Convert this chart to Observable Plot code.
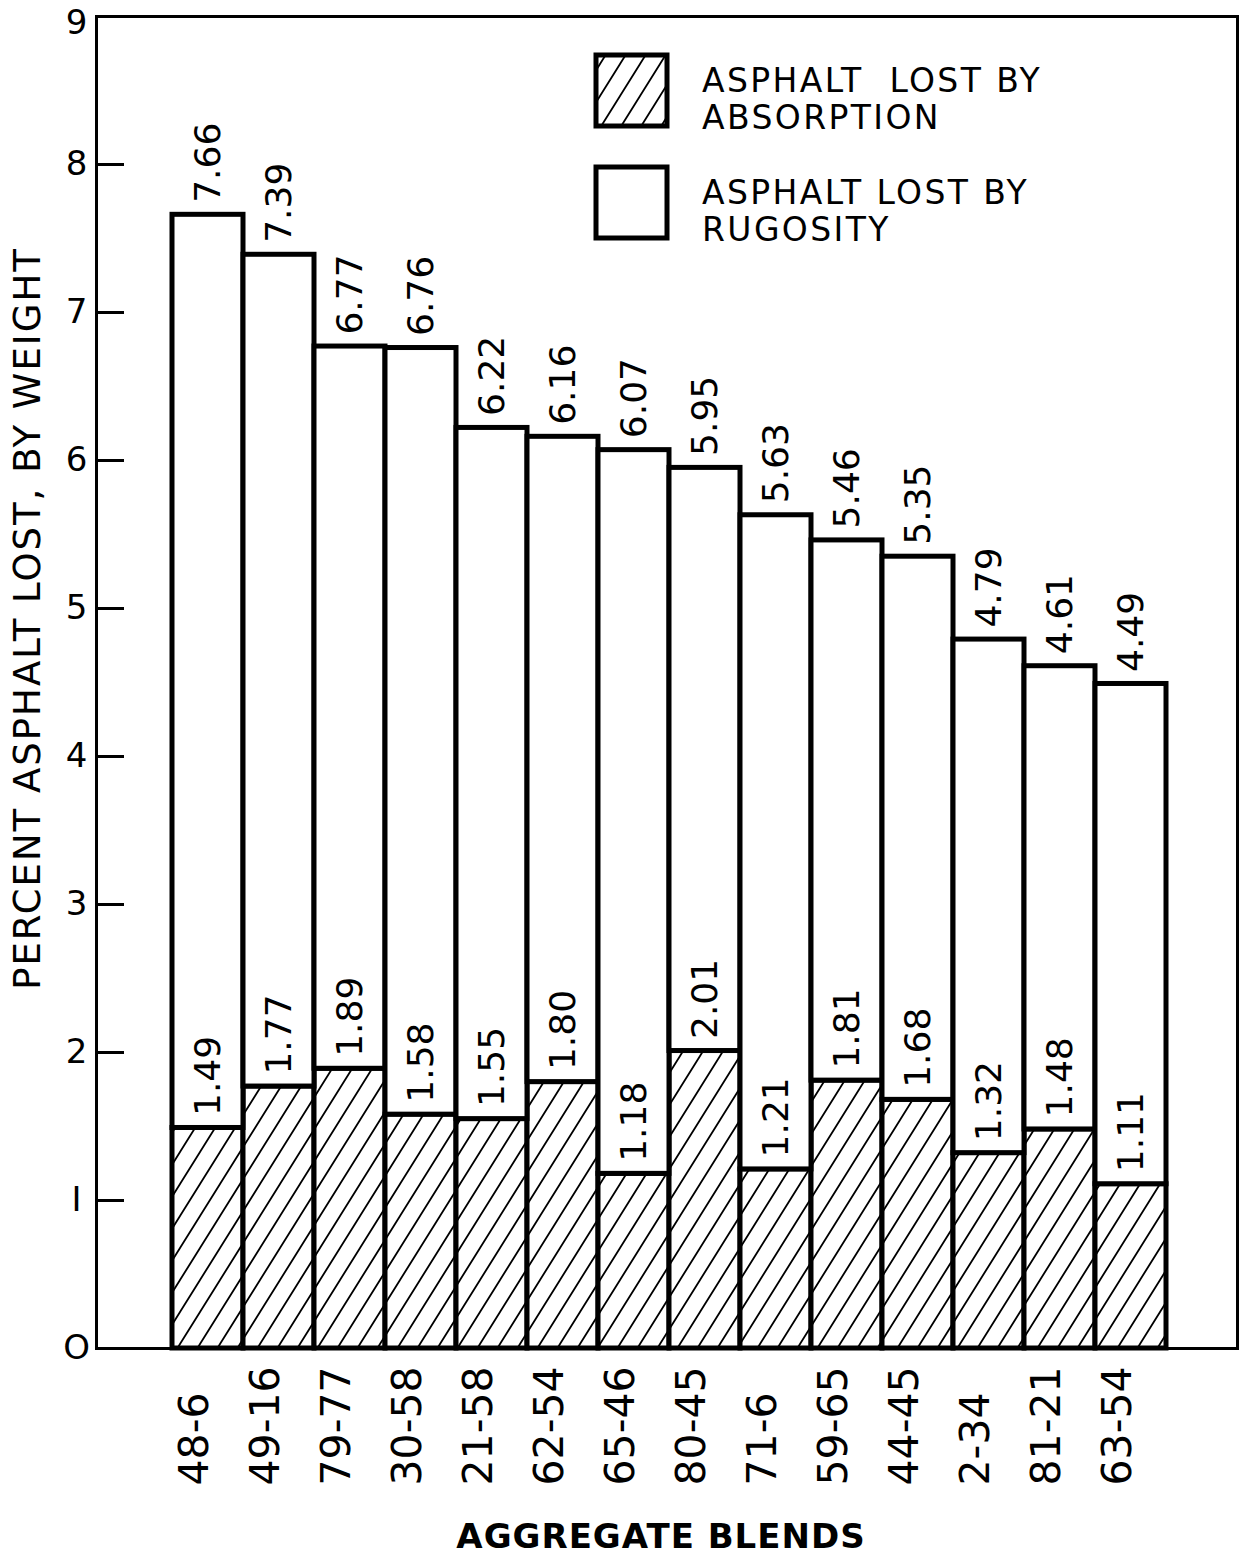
<!DOCTYPE html>
<html>
<head>
<meta charset="utf-8">
<script src="https://cdn.jsdelivr.net/npm/d3@7"></script>
<script src="https://cdn.jsdelivr.net/npm/@observablehq/plot@0.6"></script>
<style>
  html, body { margin: 0; padding: 0; background: #fff; }
  #chart { position: relative; width: 1239px; height: 1557px; }
  svg { font-family: "DejaVu Sans", sans-serif; }
</style>
</head>
<body>
<div id="chart"></div>
<script>
const blends = ["48-6", "49-16", "79-77", "30-58", "21-58", "62-54", "65-46", "80-45", "71-6", "59-65", "44-45", "2-34", "81-21", "63-54"];
const totalLost = [7.66, 7.39, 6.77, 6.76, 6.22, 6.16, 6.07, 5.95, 5.63, 5.46, 5.35, 4.79, 4.61, 4.49];
const absorptionLost = [1.49, 1.77, 1.89, 1.58, 1.55, 1.80, 1.18, 2.01, 1.21, 1.81, 1.68, 1.32, 1.48, 1.11];
const yTicks = [0, 1, 2, 3, 4, 5, 6, 7, 8, 9];
const yTickLabels = ["O", "I", "2", "3", "4", "5", "6", "7", "8", "9"];
const yTitle = "PERCENT ASPHALT LOST, BY WEIGHT";
const xTitle = "AGGREGATE BLENDS";
const legendLabels = [["ASPHALT  LOST BY", "ABSORPTION"], ["ASPHALT LOST BY", "RUGOSITY"]];

const rows = blends.map((b, i) => ({blend: b, total: totalLost[i], absorption: absorptionLost[i]}));
const fmt = v => v.toFixed(2);
const tickLabel = d => yTickLabels[yTicks.indexOf(d)];

const plot = Plot.plot({
  width: 1239,
  height: 1557,
  marginLeft: 96,
  marginRight: 2,
  marginTop: 16,
  marginBottom: 209,
  style: {fontFamily: "DejaVu Sans, sans-serif", background: "#fff", color: "#000"},
  x: {type: "band", domain: blends, range: [167, 1170], padding: 0, axis: null},
  y: {domain: [0, 9], axis: null},
  marks: [
    Plot.barY(rows, {x: "blend", y1: 0, y2: "absorption", fill: "url(#hatch)", stroke: "#000", strokeWidth: 5}),
    Plot.barY(rows, {x: "blend", y1: "absorption", y2: "total", fill: "#fff", stroke: "#000", strokeWidth: 5}),
    Plot.frame({stroke: "#000", strokeWidth: 3}),
    Plot.axisY(yTicks, {tickSize: -28, strokeWidth: 3, tickFormat: () => "", label: null}),
    Plot.axisY(yTicks.slice(0, 9), {tickSize: 0, tickPadding: 20, textAnchor: "middle", fontSize: 34, tickFormat: tickLabel, label: null}),
    Plot.axisY(yTicks.slice(9), {tickSize: 0, tickPadding: 20, textAnchor: "middle", fontSize: 34, dy: 7, tickFormat: tickLabel, label: null}),
    Plot.text(rows, {x: "blend", y: "total", text: d => fmt(d.total), rotate: -90, textAnchor: "start", dy: -12, fontSize: 36, fill: "#000"}),
    Plot.text(rows, {x: "blend", y: "absorption", text: d => fmt(d.absorption), rotate: -90, textAnchor: "start", dy: -12, fontSize: 36, fill: "#000"}),
    Plot.text(blends, {x: d => d, frameAnchor: "bottom", rotate: -90, textAnchor: "start", dy: 137, fontSize: 41, fill: "#000"}),
    Plot.text([xTitle], {frameAnchor: "bottom", textAnchor: "middle", dy: 189, dx: -6, fontSize: 34, fontWeight: "bold", fill: "#000", lineAnchor: "middle"}),
    Plot.text([yTitle], {frameAnchor: "left", textAnchor: "middle", rotate: -90, dx: -68, dy: -64, fontSize: 37, fill: "#000"})
  ]
});

const svg = d3.select(plot);
const defs = svg.insert("defs", ":first-child");
const pat = defs.append("pattern")
  .attr("id", "hatch").attr("patternUnits", "userSpaceOnUse")
  .attr("width", 20).attr("height", 32);
pat.append("rect").attr("width", 20).attr("height", 32).attr("fill", "#fff");
pat.append("path")
  .attr("d", "M0,32 L20,0 M-5,8 L5,-8 M15,40 L25,24")
  .attr("stroke", "#000").attr("stroke-width", 1.8).attr("fill", "none");

// letter spacing for titles (style only)
svg.selectAll("text").filter(function() { return this.textContent === xTitle; }).attr("letter-spacing", 1);
svg.selectAll("text").filter(function() { return this.textContent === yTitle; }).attr("letter-spacing", 2);

// legend
const lg = svg.append("g").attr("class", "legend").attr("text-anchor", "start");
const boxes = [{y: 55, fill: "url(#hatch)"}, {y: 167, fill: "#fff"}];
boxes.forEach((b, i) => {
  lg.append("rect").attr("x", 596).attr("y", b.y).attr("width", 71).attr("height", 71)
    .attr("fill", b.fill).attr("stroke", "#000").attr("stroke-width", 5);
  legendLabels[i].forEach((t, j) => {
    lg.append("text").attr("x", 702).attr("y", b.y + 37 + j * 37)
      .attr("text-anchor", "start")
      .attr("font-size", 33).attr("letter-spacing", 2.4).attr("fill", "#000").style("white-space", "pre").text(t);
  });
});

document.getElementById("chart").appendChild(plot);
</script>
</body>
</html>
